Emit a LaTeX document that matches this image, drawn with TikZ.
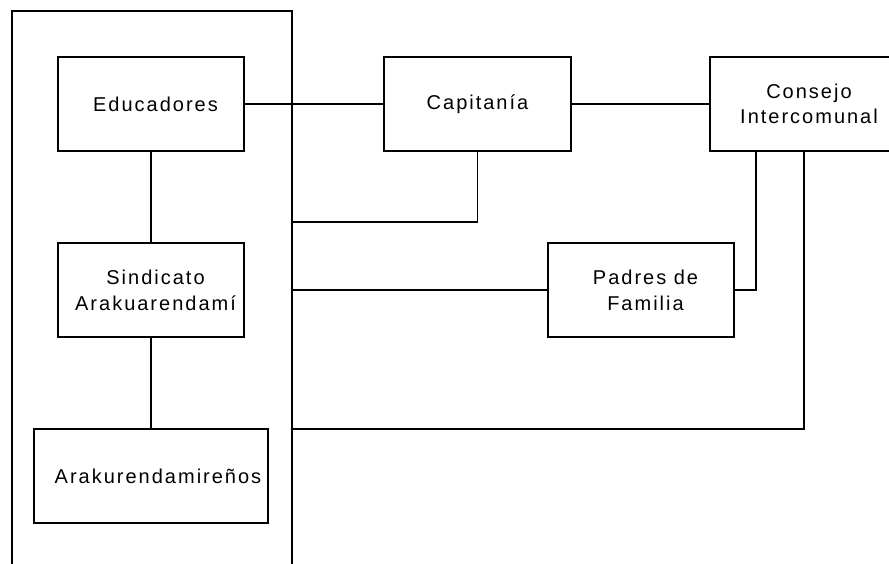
\documentclass[tikz,border=0pt]{standalone}
\usepackage{fontspec}
\setmainfont{Liberation Sans}[LetterSpace=10]
\newcommand{\sh}{\hspace*{9pt}}
\begin{document}
\begin{tikzpicture}[x=1pt,y=-1pt,
  every node/.style={inner sep=0pt, outer sep=0pt},
  box/.style={draw, line width=1.4pt, minimum width=186pt, minimum height=94pt,
    align=center, font=\fontsize{20}{26}\selectfont},
  conn/.style={line width=1.4pt}]
\useasboundingbox (0,0) rectangle (889,564);
\node[draw, line width=1.4pt, minimum width=280pt, minimum height=580pt, anchor=north west] (grupo) at (12,11) {};
\node[box] (edu) at (151,104) {\sh Educadores};
\node[box] (sin) at (151,290) {\sh Sindicato\\\sh Arakuarendamí};
\node[box, minimum width=234pt] (ara) at (151,476) {\hspace*{14pt}Arakurendamireños};
\node[box, minimum width=187pt] (cap) at (477.5,104) {Capitanía};
\node[box, minimum width=190pt, anchor=west] (cons) at (710,104) {};
\node[align=center, font=\fontsize{20}{25}\selectfont] (constxt) at (809,104) {Consejo\\Intercomunal};
\node[box] (pad) at (641,290) {\sh Padres de\\\sh Familia};
\coordinate (g1) at (292,222);
\coordinate (g3) at (292,429);
\draw[conn] (edu.east) -- (cap.west);
\draw[conn] (cap.east) -- (cons.west);
\draw[conn] (edu.south) -- (sin.north);
\draw[conn] (sin.south) -- (ara.north);
\draw[conn] (cap.south) |- (g1);
\draw[conn] (grupo.east |- pad.west) -- (pad.west);
\draw[conn] ([xshift=46pt]cons.south west) |- (pad.east);
\draw[conn] ([xshift=94pt]cons.south west) |- (g3);
\end{tikzpicture}
\end{document}
